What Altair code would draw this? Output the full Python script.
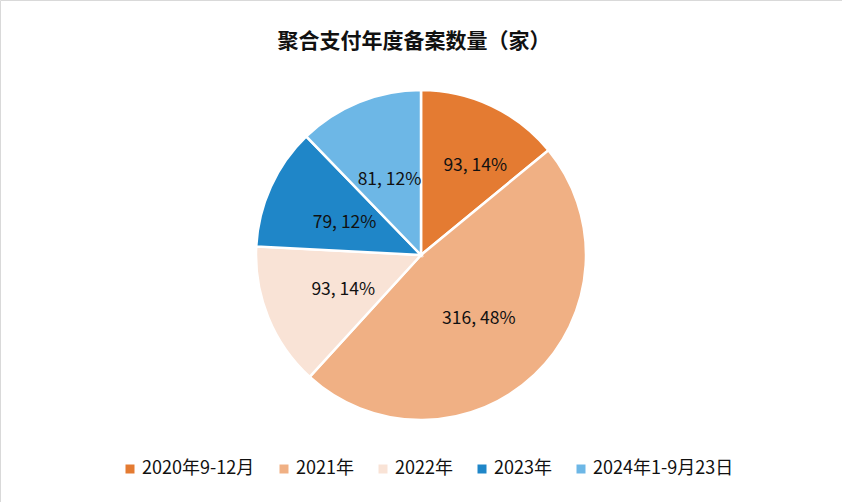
import altair as alt
import pandas as pd

categories = ["2020年9-12月", "2021年", "2022年", "2023年", "2024年1-9月23日"]
values = [93, 316, 93, 79, 81]
colors = ["#E47B32", "#F0B084", "#F9E3D6", "#1F86C8", "#6DB7E6"]
title_text = "聚合支付年度备案数量（家）"

total = sum(values)
df = pd.DataFrame({
    "category": categories,
    "value": values,
    "order": list(range(len(categories))),
})
df["label"] = [f"{v}, {round(v / total * 100)}%" for v in values]

FONT = "Noto Sans CJK SC"
W, H = 842, 502
CX, CY, R = 421, 255, 165

theta_scale = alt.Scale(domain=[0, total])

base = (
    alt.Chart(df)
    .transform_stack(
        stack="value", as_=["v0", "v1"], groupby=[], sort=[alt.SortField("order")]
    )
    .transform_calculate(mid="(datum.v0 + datum.v1) / 2")
)

arcs = base.mark_arc(outerRadius=R, stroke="white", strokeWidth=2.5).encode(
    theta=alt.Theta("v0:Q", scale=theta_scale, stack=None),
    theta2="v1:Q",
    x=alt.value(CX),
    y=alt.value(CY),
    color=alt.Color(
        "category:N",
        scale=alt.Scale(domain=categories, range=colors),
        sort=categories,
        legend=alt.Legend(
            title=None,
            orient="none",
            direction="horizontal",
            legendX=121,
            legendY=460,
            symbolType="square",
            symbolSize=81,
            symbolStrokeWidth=0,
            labelFont=FONT,
            labelFontSize=18,
            labelColor="#111111",
            labelOffset=3,
            columnPadding=20,
            labelLimit=300,
        ),
    ),
)

text_style = dict(font=FONT, fontSize=17.5, color="#111111")

labels_first = base.transform_filter(alt.datum.order == 0).mark_text(
    radius=106, dx=9, dy=7, **text_style
).encode(
    theta=alt.Theta("mid:Q", scale=theta_scale, stack=None),
    x=alt.value(CX),
    y=alt.value(CY),
    text="label:N",
)

labels_rest = base.transform_filter(alt.datum.order > 0).mark_text(
    radius=84, dy=3, **text_style
).encode(
    theta=alt.Theta("mid:Q", scale=theta_scale, stack=None),
    x=alt.value(CX),
    y=alt.value(CY),
    text="label:N",
)

title = alt.Chart(pd.DataFrame({"t": [title_text]})).mark_text(
    font=FONT, fontSize=21, fontWeight="bold", color="#111111"
).encode(
    x=alt.value(414),
    y=alt.value(42),
    text="t:N",
)

chart = (
    alt.layer(arcs, labels_first, labels_rest, title)
    .properties(width=W, height=H, padding=0, autosize="none", background="white")
    .configure_view(stroke="#d9d9d9", strokeWidth=1)
)

chart.save("out.html", embed_options={"renderer": "svg", "actions": False})
